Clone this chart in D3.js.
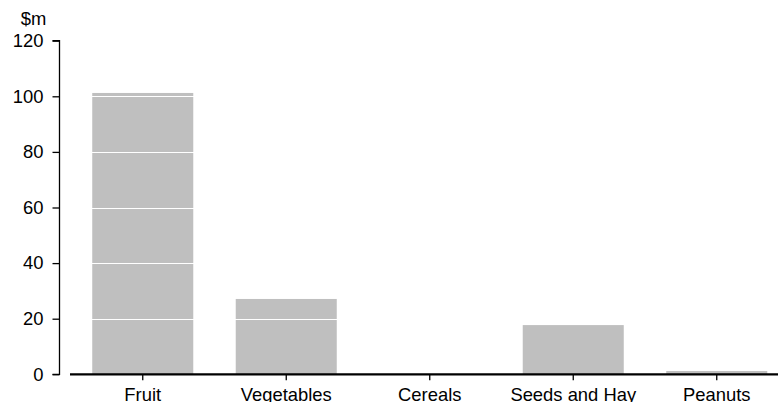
<!DOCTYPE html>
<html><head><meta charset="utf-8">
<script src="https://cdn.jsdelivr.net/npm/d3@7"></script>
<style>body{margin:0;background:#fff}svg{display:block}text{font-family:"Liberation Sans",Arial,sans-serif;fill:#000}</style>
</head><body>
<svg id="c" width="778" height="402"></svg>
<script>
const categories = ["Fruit","Vegetables","Cereals","Seeds and Hay","Peanuts"];
const values = [101.2, 27.1, 0, 17.7, 1.2];
const yTicks = [0,20,40,60,80,100,120];
const unitLabel = "$m";

const FONT = "'Liberation Sans',Arial,sans-serif";
const FS = 18.4;
const svg = d3.select("#c");
const x = d3.scaleBand().domain(categories).range([71, 788.5]).paddingInner(0.296).paddingOuter(0.148);
const y = d3.scaleLinear().domain([0,120]).range([374.3, 40.7]);

svg.selectAll("rect.bar").data(values).join("rect")
  .attr("class","bar")
  .attr("x",(d,i)=>x(categories[i]))
  .attr("width",x.bandwidth())
  .attr("y",d=>y(d))
  .attr("height",d=>y(0)-y(d))
  .attr("fill","#bfbfbf");

// white gridlines over bars
svg.selectAll("line.grid").data(yTicks.filter(t=>t>0)).join("line")
  .attr("class","grid")
  .attr("x1",60).attr("x2",778)
  .attr("y1",d=>Math.round(y(d))+0.5).attr("y2",d=>Math.round(y(d))+0.5)
  .attr("stroke","#fff").attr("stroke-width",1.2);

// y axis
const yAxis = d3.axisLeft(y).tickValues(yTicks).tickSize(7).tickPadding(9);
const gy = svg.append("g").attr("transform","translate(59.5,0)").call(yAxis);
gy.select(".domain").attr("d",`M-7,${y(120)}H0V${y(0)}H-7`).attr("stroke","#000").attr("stroke-width",1.3);
gy.selectAll(".tick line").attr("stroke","#000").attr("stroke-width",1.3);
gy.selectAll(".tick text").attr("font-size",FS).style("font-family",FONT).attr("fill","#000");

// x axis
const xAxis = d3.axisBottom(x).tickSize(6).tickPadding(7.5);
const gx = svg.append("g").attr("transform",`translate(0,${y(0)})`).call(xAxis);
gx.select(".domain").attr("d","M70,0H778").attr("stroke","#000").attr("stroke-width",2.2);
gx.selectAll(".tick line").attr("stroke","#000").attr("stroke-width",1.3);
gx.selectAll(".tick text").attr("font-size",FS).style("font-family",FONT).attr("fill","#000");

svg.append("text").attr("x",33.5).attr("y",25).attr("text-anchor","middle").attr("font-size",FS).style("font-family",FONT).text(unitLabel);
</script>
</body></html>
